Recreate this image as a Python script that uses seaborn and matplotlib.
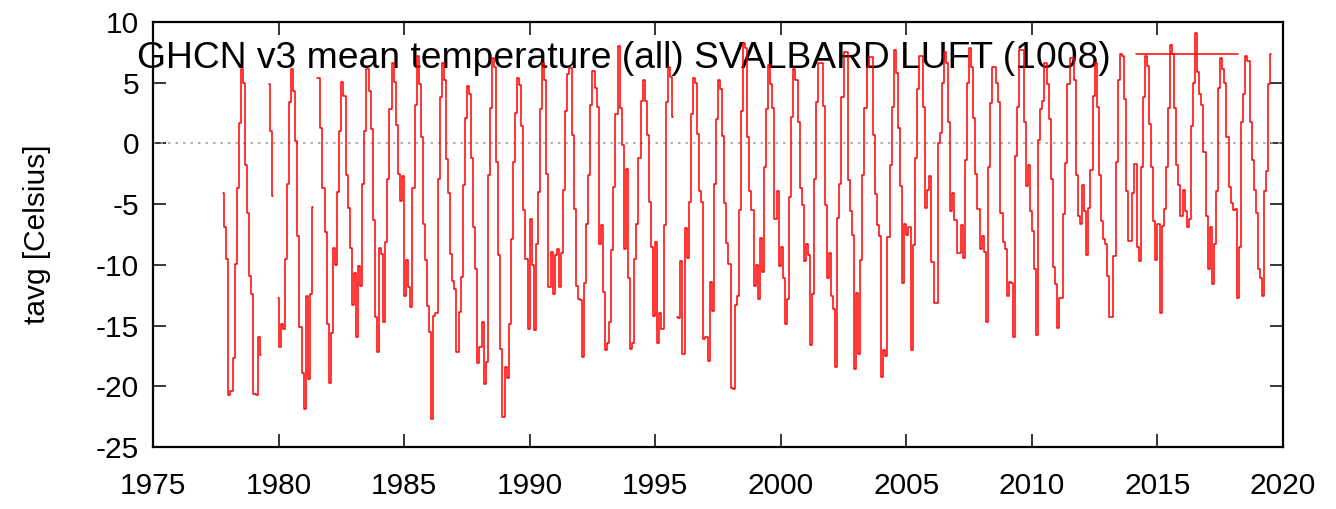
import matplotlib
matplotlib.use("Agg")
import matplotlib.pyplot as plt
from matplotlib.lines import Line2D
import pandas as pd
import seaborn as sns

# GHCN v3 monthly mean temperature, SVALBARD LUFT, Jan..Dec (None = missing)
y1977 = [None, None, None, None, None, None, None, None, None, -4.1, -6.9, -9.5]
y1978 = [-20.7, -20.4, -17.7, -9.9, -3.7, 1.7, 6.1, 5.0, -1.8, -5.7, -10.9, -12.4]
y1979 = [-20.6, -20.7, -15.9, -17.4, None, None, None, 4.9, 1.0, -4.3, None, -12.7]
y1980 = [-16.8, -14.9, -15.3, -9.5, -3.3, 3.4, 6.1, 4.3, 0.2, -7.6, -15.1, -18.9]
y1981 = [-21.9, -12.6, -19.4, -12.4, -5.2, None, 5.4, 5.4, 1.3, -3.7, -7.3, -14.9]
y1982 = [-19.7, -15.6, -8.6, -10.0, -4.0, 1.0, 5.1, 3.9, -2.6, -5.3, -8.6, -13.3]
y1983 = [-10.7, -15.9, -10.1, -11.7, -3.3, 1.0, 6.1, 4.3, 1.2, -6.3, -14.3, -17.2]
y1984 = [-8.6, -9.1, -14.7, -8.1, -2.9, 2.8, 6.6, 5.1, 1.5, -2.5, -4.7, -2.7]
y1985 = [-12.6, -9.6, -11.8, -13.5, -3.7, 3.2, 7.2, 4.9, 0.5, -6.6, -9.6, -13.4]
y1986 = [-15.5, -22.7, -14.2, -14.0, -2.9, 3.8, 6.6, 5.2, -1.3, -4.1, -9.1, -11.3]
y1987 = [-12.0, -17.2, -13.9, -11.0, -3.4, 2.1, 4.7, 4.1, -1.2, -6.9, -10.3, -18.1]
y1988 = [-16.8, -14.7, -19.8, -18.0, -2.6, 2.9, 7.0, 6.3, -1.5, -9.2, -16.9, -22.5]
y1989 = [-18.4, -19.3, -14.9, -7.9, -1.5, 2.5, 5.4, 4.8, 1.4, -5.5, -9.5, -15.3]
y1990 = [-6.2, -10.0, -15.4, -8.3, -4.0, 2.8, 6.6, 5.2, -2.5, -11.8, -8.9, -12.4]
y1991 = [-9.2, -8.7, -11.8, -9.0, -3.8, 2.7, 5.7, 6.2, 0.7, -5.4, -11.7, -12.8]
y1992 = [-12.9, -17.6, -11.5, -6.6, -2.6, 3.2, 6.0, 4.6, 3.0, -8.3, -6.7, -12.2]
y1993 = [-17.0, -16.4, -14.7, -8.8, -3.6, 2.4, 8.0, 2.9, -0.1, -8.7, -2.1, -11.1]
y1994 = [-16.9, -16.4, -9.5, -6.6, -1.2, 3.5, 5.2, 3.5, 0.7, -4.8, -8.5, -14.2]
y1995 = [-8.1, -16.4, -14.0, -15.3, -6.7, 3.4, 6.3, 5.5, 2.2, None, -14.3, -14.4]
y1996 = [-9.7, -17.3, -7.0, -9.4, -4.8, 2.4, 5.4, 5.0, 0.8, -3.9, -4.8, -16.1]
y1997 = [-15.9, -17.9, -11.4, -13.8, -3.3, 2.0, 5.2, 4.5, 0.6, -4.9, -8.2, -9.9]
y1998 = [-20.1, -20.2, -13.3, -12.6, -5.5, 2.7, 8.3, 7.9, 0.5, -3.9, -5.5, -11.7]
y1999 = [-10.0, -12.8, -7.8, -10.6, -1.9, 2.8, 6.5, 4.9, 2.9, -6.2, -3.9, -10.1]
y2000 = [-8.5, -11.1, -14.9, -12.8, -4.4, 2.2, 6.1, 5.2, 1.8, -3.7, -5.1, -9.7]
y2001 = [-8.3, -9.2, -16.6, -12.4, -2.9, 3.4, 6.6, 6.6, 3.1, -5.1, -11.1, -9.0]
y2002 = [-12.6, -13.6, -18.4, -6.1, -3.3, 3.8, 7.5, 7.5, -3.0, -5.6, -7.5, -18.6]
y2003 = [-12.3, -17.3, -9.6, -2.6, 2.9, 6.3, 7.1, 7.1, 0.7, -4.2, -6.7, -7.6]
y2004 = [-19.2, -17.0, -17.5, -7.7, -1.8, 3.0, 7.7, 5.8, 1.3, -3.5, -11.5, -6.6]
y2005 = [-7.5, -6.9, -17.0, -8.4, -1.2, 4.5, 7.2, 7.2, 3.0, -5.3, -3.8, -2.7]
y2006 = [-9.8, -13.1, -13.1, 0.0, 0.9, 5.0, 7.5, 6.6, 1.8, -5.6, -4.1, -6.3]
y2007 = [-9.0, -9.0, -6.7, -9.4, -1.4, 5.0, 7.9, 6.3, 2.1, -2.5, -5.4, -8.7]
y2008 = [-7.6, -8.9, -14.7, -1.9, 3.3, 6.3, 6.3, 5.0, 3.4, -5.7, -8.1, -8.7]
y2009 = [-12.6, -11.4, -11.5, -15.9, -1.0, 3.0, 7.7, 7.7, 1.8, -3.5, -1.8, -5.6]
y2010 = [-7.2, -10.3, -15.8, 0.3, 2.8, 3.5, 6.6, 4.9, 2.0, -2.9, -10.2, -11.6]
y2011 = [-15.2, -12.7, -12.7, -5.8, -1.6, 4.9, 7.0, 7.0, 5.2, -2.6, -6.0, -6.6]
y2012 = [-3.4, -5.6, -9.2, -5.3, -2.2, 3.9, 6.6, 3.0, -2.6, -6.4, -7.9, -8.3]
y2013 = [-10.9, -14.3, -14.3, -9.3, -1.5, 5.2, 7.4, 7.2, 3.7, -3.9, -8.0, -8.0]
y2014 = [-4.1, -1.7, -8.5, -9.7, -1.9, 3.8, 7.2, 6.4, 1.6, -1.9, -6.4, -9.6]
y2015 = [-6.6, -14.0, -6.8, -5.4, -1.9, 2.9, 8.1, 7.4, 2.9, -1.8, -3.4, -6.0]
y2016 = [-3.8, -5.6, -6.9, -6.2, 1.4, 5.0, 9.1, 5.9, 4.1, 3.2, -0.7, -6.0]
y2017 = [-10.3, -6.9, -11.6, -8.3, -3.9, 4.6, 7.0, 6.1, 5.0, 0.5, -3.6, -4.9]
y2018 = [-5.5, -5.4, -12.7, -8.5, 1.8, 4.1, 7.2, 6.8, 1.8, -1.4, -3.8, -5.7]
y2019 = [-10.3, -11.1, -12.6, -3.9, -2.3, 4.9, 7.4, None, None, None, None, None]

YEARS = list(range(1977, 2020))
MONTHLY = [
    y1977, y1978, y1979, y1980, y1981, y1982, y1983, y1984, y1985, y1986,
    y1987, y1988, y1989, y1990, y1991, y1992, y1993, y1994, y1995, y1996,
    y1997, y1998, y1999, y2000, y2001, y2002, y2003, y2004, y2005, y2006,
    y2007, y2008, y2009, y2010, y2011, y2012, y2013, y2014, y2015, y2016,
    y2017, y2018, y2019,
]

LABEL = "GHCN v3 mean temperature (all) SVALBARD LUFT (1008)"
FS = 21.5
KEY_FS = 26.8


def main():
    rows = []
    for year, vals in zip(YEARS, MONTHLY):
        for m, v in enumerate(vals):
            rows.append((year + (m + 0.5) / 12, v))
    df = pd.DataFrame(rows, columns=["t", "tavg"], dtype=float)
    # break the step line wherever a month is missing
    df["seg"] = df["tavg"].isna().cumsum()
    df = df.dropna()

    sns.set_style("ticks")
    plt.rcParams["font.family"] = ["Liberation Sans", "DejaVu Sans"]
    plt.rcParams["axes.unicode_minus"] = False
    for key in ("text.color", "axes.labelcolor", "xtick.color", "ytick.color",
                "axes.edgecolor"):
        plt.rcParams[key] = "black"

    fig = plt.figure(figsize=(13.36, 5.09), dpi=100)
    ax = fig.add_axes([153 / 1336, 1 - 447 / 509, 1130 / 1336, 425 / 509])

    ax.axhline(0, color="#a0a0a0", lw=1.2, ls=(0, (1.5, 3)), zorder=1)
    sns.lineplot(
        data=df, x="t", y="tavg", units="seg", estimator=None,
        drawstyle="steps-mid", color="red", lw=1.1, legend=False, ax=ax,
    )

    ax.set_xlim(1975, 2020)
    ax.set_ylim(-25, 10)
    ax.set_xticks(range(1975, 2021, 5))
    ax.set_yticks(range(-25, 11, 5))
    ax.set_xlabel("")
    ax.set_ylabel("tavg [Celsius]", fontsize=FS, color="black")
    ax.yaxis.set_label_coords(-0.09, 0.5)

    ax.tick_params(direction="in", top=True, right=True, length=9.5, width=1.1,
                   labelsize=FS, color="black", labelcolor="black")
    ax.tick_params(axis="x", pad=18)
    ax.tick_params(axis="y", pad=10)
    for sp in ax.spines.values():
        sp.set_linewidth(1.6)
        sp.set_color("black")

    handle = Line2D([], [], color="red", lw=1.1)
    leg = ax.legend([handle], [LABEL], loc="center right",
                    bbox_to_anchor=(1085 / 1130, (447 - 58) / 425),
                    frameon=False, markerfirst=False, fontsize=KEY_FS,
                    handlelength=2.75, handletextpad=0.68,
                    borderpad=0, borderaxespad=0, labelcolor="black")
    leg.set_zorder(1)

    fig.savefig("out.png", dpi=100)


if __name__ == "__main__":
    main()
